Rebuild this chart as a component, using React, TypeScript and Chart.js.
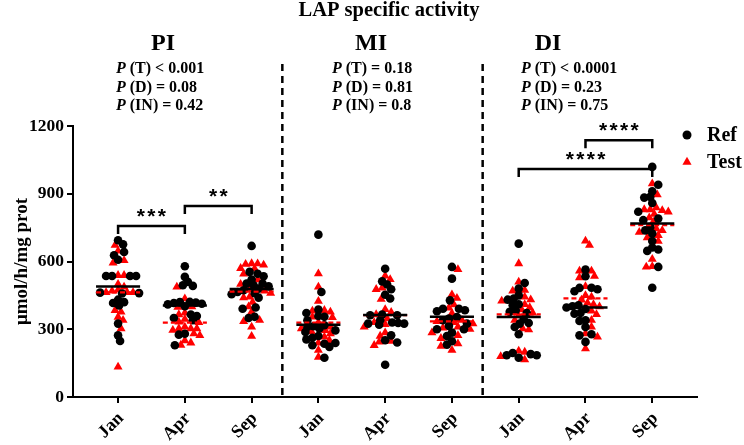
import React, { useEffect, useRef } from "react";
import { Chart, registerables } from "chart.js";
Chart.register(...registerables);

const FONT = "'Liberation Serif', 'Times New Roman', serif";
const STAR_FONT = "'Liberation Sans', Arial, sans-serif";

const chartTitle = "LAP specific activity";
const yAxisTitle = "μmol/h/mg prot";
const categories = ["Jan", "Apr", "Sep", "Jan", "Apr", "Sep", "Jan", "Apr", "Sep"];
const xTickValues = [1, 2, 3, 4, 5, 6, 7, 8, 9];
const yTickValues = [0, 300, 600, 900, 1200];
const periodLabels = ["PI", "MI", "DI"];
const separators = [3.46, 6.46];
const seriesNames = ["Ref", "Test"];

const pLinesPI = ["(T) < 0.001", "(D) = 0.08", "(IN) = 0.42"];
const pLinesMI = ["(T) = 0.18", "(D) = 0.81", "(IN) = 0.8"];
const pLinesDI = ["(T) < 0.0001", "(D) = 0.23", "(IN) = 0.75"];

const bracketFrom = [1, 2, 7, 8];
const bracketTo = [2, 3, 9, 9];
const bracketLevel = [757, 846, 1010, 1137];
const bracketStars = ["***", "**", "****", "****"];

// Ref (black circles) per group
const refPIJan = [694, 676, 642, 628, 608, 536, 536, 536, 536, 462, 460, 458, 431, 420, 416, 405, 325, 273, 248];
const refPIApr = [579, 532, 510, 495, 492, 421, 420, 418, 416, 413, 410, 402, 365, 359, 350, 340, 280, 276, 229];
const refPISep = [669, 554, 546, 535, 520, 502, 502, 495, 490, 480, 473, 465, 460, 455, 440, 396, 391, 355, 350];
const refMIJan = [719, 465, 387, 372, 359, 355, 340, 318, 313, 310, 303, 295, 288, 270, 262, 255, 239, 236, 229, 222, 174];
const refMIApr = [568, 512, 498, 477, 453, 436, 365, 362, 362, 340, 330, 328, 325, 325, 320, 273, 251, 241, 143];
const refMISep = [576, 524, 428, 391, 391, 384, 380, 354, 347, 340, 325, 315, 300, 300, 285, 270, 247, 232];
const refDIJan = [679, 505, 480, 450, 436, 431, 411, 406, 384, 377, 372, 345, 328, 325, 310, 278, 195, 190, 185, 185, 174];
const refDIApr = [564, 535, 484, 483, 477, 468, 406, 402, 396, 390, 372, 369, 340, 337, 310, 278, 273, 244];
const refDISep = [1019, 940, 911, 886, 883, 859, 820, 790, 783, 753, 738, 724, 691, 662, 653, 647, 576, 484];

// Test (red triangles) per group
const testPIJan = [672, 647, 605, 594, 539, 539, 500, 487, 474, 470, 463, 463, 463, 384, 377, 354, 340, 303, 133];
const testPIApr = [487, 435, 400, 398, 372, 365, 345, 332, 330, 310, 303, 303, 303, 296, 280, 273, 250, 240, 230];
const testPISep = [591, 590, 588, 585, 570, 568, 545, 520, 500, 476, 470, 460, 443, 440, 420, 400, 377, 340, 335, 310, 269];
const testMIJan = [546, 487, 424, 384, 381, 377, 355, 352, 330, 310, 303, 295, 290, 280, 266, 251, 240, 207, 177];
const testMIApr = [536, 521, 483, 477, 433, 388, 375, 365, 347, 330, 322, 310, 285, 270, 247, 244, 229];
const testMISep = [565, 453, 438, 409, 395, 370, 340, 335, 330, 325, 310, 306, 300, 285, 273, 260, 236, 225, 207];
const testDIJan = [591, 510, 473, 470, 443, 431, 425, 410, 396, 387, 372, 360, 340, 303, 298, 204, 199, 180, 165];
const testDIApr = [691, 672, 558, 558, 535, 529, 490, 450, 443, 430, 417, 410, 400, 381, 366, 340, 310, 281, 266, 214];
const testDISep = [945, 896, 838, 830, 830, 826, 820, 810, 794, 775, 745, 738, 730, 716, 706, 690, 610, 578, 576];

const refGroups = [refPIJan, refPIApr, refPISep, refMIJan, refMIApr, refMISep, refDIJan, refDIApr, refDISep];
const testGroups = [testPIJan, testPIApr, testPISep, testMIJan, testMIApr, testMISep, testDIJan, testDIApr, testDISep];

const mean = (a: number[]) => a.reduce((s, v) => s + v, 0) / a.length;
const HALF = 0.33;

const toPoints = (groups: number[][]) =>
  groups.flatMap((g, i) => g.map((v) => ({ x: xTickValues[i], y: v })));
const toMeanLine = (groups: number[][]) =>
  groups.flatMap((g, i) => {
    const m = mean(g);
    return [
      { x: xTickValues[i] - HALF, y: m },
      { x: xTickValues[i] + HALF, y: m },
      { x: xTickValues[i] + HALF + 0.01, y: null },
    ];
  });

const REF_IDX = 2;
const TEST_IDX = 3;

const swarmPlugin = {
  id: "swarm",
  afterDatasetsUpdate(chart: any) {
    const groups = new Map<number, any[]>();
    [REF_IDX, TEST_IDX].forEach((di) => {
      const meta = chart.getDatasetMeta(di);
      const ds = chart.data.datasets[di].data as any[];
      meta.data.forEach((el: any, i: number) => {
        const key = ds[i].x;
        if (!groups.has(key)) groups.set(key, []);
        groups.get(key)!.push(el);
      });
    });
    const D = 5.8;
    const MAX = 21;
    groups.forEach((els) => {
      els.sort((a, b) => a.y - b.y);
      const placed: { x: number; y: number }[] = [];
      for (const el of els) {
        const cx = el.x;
        let best = 0;
        let bestScore = -1;
        for (let k = 0; k <= 2 * MAX; k++) {
          const o = (k % 2 === 1 ? 1 : -1) * Math.ceil(k / 2);
          let minD = Infinity;
          for (const p of placed) {
            const dx = p.x - (cx + o);
            const dy = p.y - el.y;
            const d = Math.sqrt(dx * dx + dy * dy);
            if (d < minD) minD = d;
          }
          if (minD >= D) {
            best = o;
            bestScore = Infinity;
            break;
          }
          if (minD > bestScore) {
            bestScore = minD;
            best = o;
          }
        }
        el.x = cx + best;
        placed.push({ x: el.x, y: el.y });
      }
    });
  },
};

function drawTriangle(ctx: CanvasRenderingContext2D, x: number, y: number, r: number) {
  ctx.beginPath();
  ctx.moveTo(x, y - r);
  ctx.lineTo(x + 0.866 * r, y + 0.5 * r);
  ctx.lineTo(x - 0.866 * r, y + 0.5 * r);
  ctx.closePath();
  ctx.fill();
}

const overlayPlugin = {
  id: "overlay",
  afterDraw(chart: any) {
    const { ctx, chartArea } = chart;
    const x = chart.scales.x;
    const y = chart.scales.y;
    ctx.save();
    ctx.fillStyle = "#000";
    ctx.strokeStyle = "#000";
    ctx.textBaseline = "middle";

    ctx.textAlign = "center";
    ctx.font = `bold 20.5px ${FONT}`;
    ctx.fillText(chartTitle, 389, 11);

    ctx.font = `bold 24px ${FONT}`;
    const periodX = [163, 371, 548];
    periodLabels.forEach((t, i) => ctx.fillText(t, periodX[i], 44));

    const pCols = [pLinesPI, pLinesMI, pLinesDI];
    const pLeft = [116, 332, 521];
    const pRowY = [69, 87.5, 106];
    ctx.textAlign = "left";
    pCols.forEach((lines, c) => {
      lines.forEach((line, r) => {
        ctx.font = `italic bold 16px ${FONT}`;
        ctx.fillText("P", pLeft[c], pRowY[r]);
        const w = ctx.measureText("P ").width;
        ctx.font = `bold 16px ${FONT}`;
        ctx.fillText(line, pLeft[c] + w, pRowY[r]);
      });
    });

    // separators
    ctx.lineWidth = 2.5;
    ctx.setLineDash([7, 5]);
    separators.forEach((s) => {
      const px = x.getPixelForValue(s);
      ctx.beginPath();
      ctx.moveTo(px, 64);
      ctx.lineTo(px, chartArea.bottom);
      ctx.stroke();
    });
    ctx.setLineDash([]);

    // brackets
    ctx.lineWidth = 2.5;
    ctx.textAlign = "center";
    ctx.font = `bold 21px ${STAR_FONT}`;
    bracketFrom.forEach((f, i) => {
      const x1 = x.getPixelForValue(f);
      const x2 = x.getPixelForValue(bracketTo[i]);
      const py = y.getPixelForValue(bracketLevel[i]);
      ctx.beginPath();
      ctx.moveTo(x1, py + 8);
      ctx.lineTo(x1, py);
      ctx.lineTo(x2, py);
      ctx.lineTo(x2, py + 8);
      ctx.stroke();
      const n = bracketStars[i].length;
      const step = 10.5;
      const mid = (x1 + x2) / 2;
      for (let k = 0; k < n; k++) {
        ctx.fillText("*", mid + (k - (n - 1) / 2) * step, py - 9);
      }
    });

    // legend
    ctx.textAlign = "left";
    ctx.font = `bold 20px ${FONT}`;
    ctx.beginPath();
    ctx.arc(687, 135, 4.5, 0, Math.PI * 2);
    ctx.fill();
    ctx.fillText(seriesNames[0], 707, 136);
    ctx.fillStyle = "#ff0000";
    drawTriangle(ctx, 687, 162, 5.3);
    ctx.fillStyle = "#000";
    ctx.fillText(seriesNames[1], 707, 163);
    ctx.restore();
  },
};

export default function App() {
  const ref = useRef<HTMLCanvasElement>(null);
  useEffect(() => {
    const axisGrid = {
      display: true,
      drawOnChartArea: false,
      drawTicks: true,
      tickLength: 6,
      color: "#000",
      lineWidth: 2,
    };
    const chart = new Chart(ref.current!, {
      type: "scatter",
      data: {
        datasets: [
          {
            type: "line",
            label: "Ref mean",
            data: toMeanLine(refGroups),
            borderColor: "#000",
            borderWidth: 2.5,
            pointRadius: 0,
            spanGaps: false,
            fill: false,
          } as any,
          {
            type: "line",
            label: "Test mean",
            data: toMeanLine(testGroups),
            borderColor: "#ff0000",
            borderDash: [5, 3],
            borderWidth: 2.2,
            pointRadius: 0,
            spanGaps: false,
            fill: false,
          } as any,
          {
            label: seriesNames[0],
            data: toPoints(refGroups),
            pointStyle: "circle",
            pointRadius: 4.3,
            backgroundColor: "#000",
            borderWidth: 0,
          },
          {
            label: seriesNames[1],
            data: toPoints(testGroups),
            pointStyle: "triangle",
            pointRadius: 5.2,
            backgroundColor: "#ff0000",
            borderWidth: 0,
          },
        ],
      },
      options: {
        responsive: false,
        animation: false,
        events: [],
        layout: { padding: { top: 126, right: 47, left: 0, bottom: 0 } },
        plugins: {
          legend: { display: false },
          tooltip: { enabled: false },
          title: { display: false },
        },
        scales: {
          x: {
            type: "linear",
            min: 0.325,
            max: 9.67,
            afterBuildTicks: (s: any) => {
              s.ticks = xTickValues.map((v) => ({ value: v }));
            },
            afterFit: (s: any) => {
              s.height = 48;
            },
            grid: axisGrid,
            border: { display: true, color: "#000", width: 2 },
            ticks: {
              autoSkip: false,
              minRotation: 45,
              maxRotation: 45,
              color: "#000",
              padding: 5,
              labelOffset: 3,
              font: { family: FONT, size: 18, weight: "bold" },
              callback: (v: any) => categories[Math.round(Number(v)) - 1] ?? "",
            },
          },
          y: {
            min: 0,
            max: 1200,
            afterBuildTicks: (s: any) => {
              s.ticks = yTickValues.map((v) => ({ value: v }));
            },
            afterFit: (s: any) => {
              s.width = 73;
            },
            grid: axisGrid,
            border: { display: true, color: "#000", width: 2 },
            ticks: {
              color: "#000",
              padding: 3,
              font: { family: FONT, size: 17.5, weight: "bold" },
              callback: (v: any) => String(v),
            },
            title: {
              display: true,
              text: yAxisTitle,
              color: "#000",
              font: { family: FONT, size: 19, weight: "bold" },
              padding: { top: 11, bottom: 0 },
            },
          },
        },
      } as any,
      plugins: [swarmPlugin, overlayPlugin],
    });
    return () => chart.destroy();
  }, []);
  return (
    <div style={{ position: "absolute", left: 0, top: 0, width: 744, height: 445, background: "#fff" }}>
      <canvas ref={ref} width={744} height={445} style={{ display: "block", width: 744, height: 445 }} />
    </div>
  );
}
